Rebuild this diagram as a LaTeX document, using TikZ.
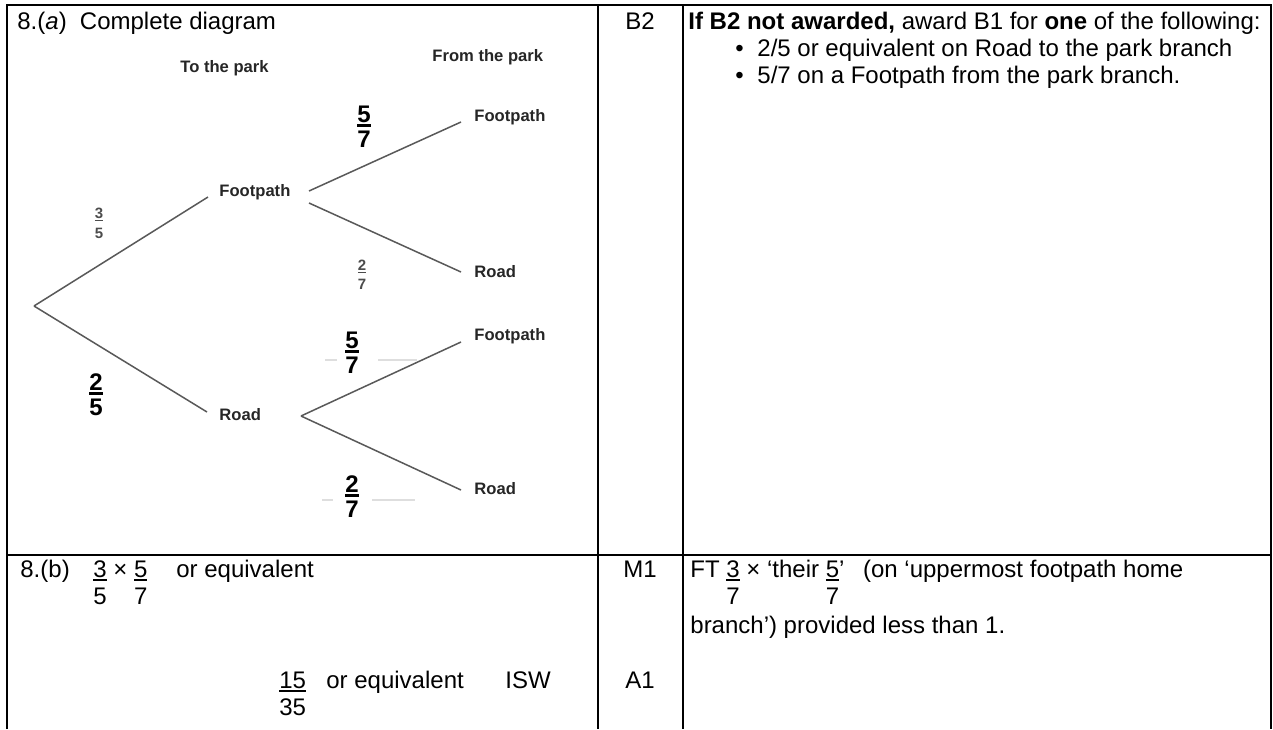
\documentclass[tikz,border=0pt]{standalone}
\usepackage{fontspec}
\setmainfont{Liberation Sans}
\usetikzlibrary{calc}
\newsavebox\frbox
% #1 numerator, #2 denominator, #3 bar thickness, #4 bar bottom below baseline, #5 denominator drop
\newcommand\ufr[5]{\sbox\frbox{#1}\rlap{\raisebox{-#4}{\rule{\wd\frbox}{#3}}}\rlap{\raisebox{-#5}{\makebox[\wd\frbox][c]{#2}}}\usebox\frbox}
\begin{document}
\begin{tikzpicture}[x=0.5pt,y=-0.5pt,
  tab/.style={draw=black,line width=0.8pt},
  txt/.style={inner sep=0pt,anchor=base west,font=\fontsize{12}{14}\selectfont},
  ctxt/.style={txt,anchor=base},
  tlab/.style={inner sep=0pt,anchor=west,font=\fontsize{8.3}{10}\selectfont\bfseries,text=black!85},
  bfr/.style={inner sep=0pt,anchor=base,font=\fontsize{12}{14}\selectfont\bfseries},
  sfr/.style={inner sep=0pt,anchor=base,font=\fontsize{7.5}{9}\selectfont\bfseries,text=black!70},
  tline/.style={draw=black!65,line width=0.75pt},
  faint/.style={draw=black!13,line width=1.2pt}]
\useasboundingbox (0,0) rectangle (1273,729);
\fill[white] (0,0) rectangle (1273,729);
% table frame
\coordinate (tl) at (7,5);
\coordinate (tr) at (1271,5);
\coordinate (bl) at (7,729);
\coordinate (br) at (1271,729);
\coordinate (c1t) at (598,5);
\coordinate (c1b) at (598,729);
\coordinate (c2t) at (683,5);
\coordinate (c2b) at (683,729);
\coordinate (rl) at (7,555);
\coordinate (rr) at (1271,555);
\draw[tab] (bl) -- (tl) -- (tr) -- (br);
\draw[tab] (c1t) -- (c1b);
\draw[tab] (c2t) -- (c2b);
\draw[tab] (rl) -- (rr);
% row (a) texts
\node[txt] (qa) at (17,29) {8.(\textit{a})\hspace{0.55em}Complete diagram};
\node[ctxt] (b2) at (640,29) {B2};
\node[txt] (cond) at (688,29) {\textbf{If B2 not awarded,} award B1 for \textbf{one} of the following:};
\node[txt] (bul1) at (735,56) {•};
\node[txt] (it1) at (757,56) {2/5 or equivalent on Road to the park branch};
\node[txt] (bul2) at (735,83) {•};
\node[txt] (it2) at (757,83) {5/7 on a Footpath from the park branch.};
% tree diagram
\node[tlab] (head1) at (180,68) {To the park};
\node[tlab] (head2) at (432,57) {From the park};
\coordinate (root) at (34,306);
\node[tlab] (fp1) at (219,192) {Footpath};
\node[tlab] (rd1) at (219,415) {Road};
\node[tlab] (fp2a) at (474,117) {Footpath};
\node[tlab] (rd2a) at (474,272) {Road};
\node[tlab] (fp2b) at (474,336) {Footpath};
\node[tlab] (rd2b) at (474,489) {Road};
\coordinate (fp1in) at (208,197);
\coordinate (rd1in) at (207,412);
\coordinate (fp1outa) at (309,191);
\coordinate (fp1outb) at (309,203);
\coordinate (rd1out) at (301,416);
\coordinate (fp2ain) at (461,122);
\coordinate (rd2ain) at (461,272);
\coordinate (fp2bin) at (461,342);
\coordinate (rd2bin) at (461,490);
\draw[tline] (root) -- (fp1in);
\draw[tline] (root) -- (rd1in);
\draw[tline] (fp1outa) -- (fp2ain);
\draw[tline] (fp1outb) -- (rd2ain);
\draw[tline] (rd1out) -- (fp2bin);
\draw[tline] (rd1out) -- (rd2bin);
% faint remnants
\draw[faint] (325,360) -- (337,360);
\draw[faint] (378,360) -- (417,360);
\draw[faint] (322,500) -- (333,500);
\draw[faint] (372,500) -- (415,500);
% probabilities
\node[sfr] (p35) at (99,218) {\ufr{3}{5}{0.7pt}{1.6pt}{10pt}};
\node[bfr] (p25) at (96,390) {\ufr{2}{5}{1.2pt}{2.3pt}{12.5pt}};
\node[bfr] (p57a) at (364,122) {\ufr{5}{7}{1.2pt}{2.3pt}{12.5pt}};
\node[sfr] (p27a) at (362,270) {\ufr{2}{7}{0.7pt}{1.6pt}{9.5pt}};
\node[bfr] (p57b) at (352,348) {\ufr{5}{7}{1.2pt}{2.3pt}{12.5pt}};
\node[bfr] (p27b) at (352,492) {\ufr{2}{7}{1.2pt}{2.3pt}{12.5pt}};
% row (b)
\node[txt] (qb) at (20,577) {8.(b)};
\node[txt] (calc1) at (93,577) {\ufr{3}{5}{0.8pt}{2pt}{13.5pt} × \ufr{5}{7}{0.8pt}{2pt}{13.5pt}};
\node[txt] (oe1) at (176,577) {or equivalent};
\node[ctxt] (m1) at (640,577) {M1};
\node[txt] (ft) at (690,577) {FT \ufr{3}{7}{0.8pt}{2pt}{13.5pt} × ‘their \ufr{5}{7}{0.8pt}{2pt}{13.5pt}’\hspace{0.5em} (on ‘uppermost footpath home};
\node[txt] (ft2) at (690,633) {branch’) provided less than 1.};
\node[txt] (ans) at (279,688) {\ufr{15}{35}{0.8pt}{2pt}{13.5pt}};
\node[txt] (oe2) at (326,688) {or equivalent};
\node[txt] (isw) at (505,688) {ISW};
\node[ctxt] (a1) at (640,688) {A1};
\end{tikzpicture}
\end{document}
